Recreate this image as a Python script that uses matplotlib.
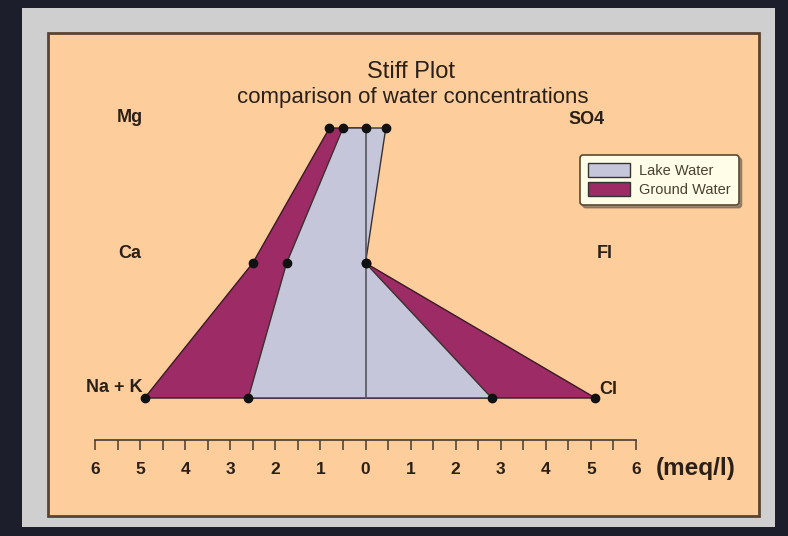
import matplotlib
matplotlib.use("Agg")
import matplotlib.pyplot as plt
from matplotlib.patches import Rectangle, Patch, Polygon

plt.rcParams['font.family'] = ['Liberation Sans', 'DejaVu Sans']

# Data (meq/l); cations on the left (negative side), anions on the right
cations = ["Na + K", "Ca", "Mg"]
anions = ["Cl", "Fl", "SO4"]
lake_cations = [2.6, 1.75, 0.5]
lake_anions = [2.8, 0.0, 0.45]
ground_cations = [4.9, 2.5, 0.8]
ground_anions = [5.1, 0.0, 0.0]
tick_values = [-6, -5, -4, -3, -2, -1, 0, 1, 2, 3, 4, 5, 6]
tick_labels = ["6", "5", "4", "3", "2", "1", "0", "1", "2", "3", "4", "5", "6"]

W, H = 788, 536
fig = plt.figure(figsize=(W / 100, H / 100), dpi=100)
fig.patch.set_facecolor("#1d1e2c")

def fx(px):
    return px / W

def fy(py):
    return 1 - py / H

# gray frame and peach panel
fig.patches.append(Rectangle((fx(22), fy(527)), fx(775) - fx(22), fy(8) - fy(527),
                             transform=fig.transFigure, facecolor="#cfcfd0", edgecolor="none", zorder=-3))
fig.patches.append(Rectangle((fx(48), fy(516)), fx(759) - fx(48), fy(33) - fy(516),
                             transform=fig.transFigure, facecolor="#fdcd9c", edgecolor="#5a4332",
                             linewidth=2, zorder=-2))

# axes: x from -6..6 spans px 95..636, bottom spine at px 440
ylo, yhi = -0.311, 2.2
row_px = 135.0
top_px = 398 - yhi * row_px
ax = fig.add_axes([fx(95), fy(440), fx(636) - fx(95), (440 - top_px) / H])
ax.set_zorder(1)
ax.set_xlim(-6, 6)
ax.set_ylim(ylo, yhi)
ax.patch.set_alpha(0)
for s in ["left", "right", "top"]:
    ax.spines[s].set_visible(False)
ax.spines["bottom"].set_color("#4a3a2c")
ax.spines["bottom"].set_linewidth(1.2)
ax.set_yticks([])
ax.set_xticks(tick_values)
ax.set_xticklabels(tick_labels, fontweight="bold", fontsize=12.5, color="#2a2018")
ax.set_xticks([v + 0.5 for v in tick_values[:-1]], minor=True)
ax.tick_params(axis="x", which="both", direction="out", length=7, width=1.1,
               color="#4a3a2c", pad=9)

rows = list(range(len(cations)))

def poly(cat, an):
    pts = [(-c, r) for c, r in zip(cat[::-1], rows[::-1])]
    pts += [(a, r) for a, r in zip(an, rows)]
    return pts

ground_pts = poly(ground_cations, ground_anions)
lake_pts = poly(lake_cations, lake_anions)

ax.add_patch(Polygon(ground_pts, closed=True, facecolor="#9d2b65", edgecolor="#3a1a28",
                     linewidth=1.0, zorder=2))
ax.add_patch(Polygon(lake_pts, closed=True, facecolor="#c6c6db", edgecolor="#3a3030",
                     linewidth=1.0, zorder=3))
# center line
ax.plot([0, 0], [rows[0], rows[-1]], color="#55555c", linewidth=1.2, zorder=4)

for cat, an in [(ground_cations, ground_anions), (lake_cations, lake_anions)]:
    ax.plot([-c for c in cat], rows, linestyle="none", marker="o", markersize=6,
            color="#111111", zorder=5, clip_on=False)
    ax.plot(an, rows, linestyle="none", marker="o", markersize=6,
            color="#111111", zorder=5, clip_on=False)

# ion labels
lab_kw = dict(fontsize=13, fontweight="bold", color="#2a2018")
fig.text(fx(130), fy(118), cations[2], ha="center", va="center", **lab_kw)
fig.text(fx(130), fy(254), cations[1], ha="center", va="center", **lab_kw)
fig.text(fx(142), fy(387), cations[0], ha="right", va="center", **lab_kw)
fig.text(fx(587), fy(120), anions[2], ha="center", va="center", **lab_kw)
fig.text(fx(605), fy(254), anions[1], ha="center", va="center", **lab_kw)
fig.text(fx(599), fy(389), anions[0], ha="left", va="center", **lab_kw)

# titles
fig.text(fx(411), fy(72), "Stiff Plot", ha="center", va="center", fontsize=17, color="#2a2018")
fig.text(fx(413), fy(97), "comparison of water concentrations", ha="center", va="center",
         fontsize=16, color="#2a2018")

# unit label
fig.text(fx(656), fy(468), "(meq/l)", ha="left", va="center", fontsize=17.5,
         fontweight="bold", color="#2a2018")

handles = [Patch(facecolor="#c6c6db", edgecolor="#333333", label="Lake Water"),
           Patch(facecolor="#9d2b65", edgecolor="#333333", label="Ground Water")]
leg = fig.legend(handles=handles, loc="upper left", bbox_to_anchor=(fx(580), fy(155)),
                 bbox_transform=fig.transFigure, borderaxespad=0, fontsize=10.5,
                 fancybox=True, shadow=True,
                 facecolor="#fffde8", edgecolor="#5a4a32", framealpha=1,
                 handlelength=2.9, handleheight=1.05, borderpad=0.55, labelspacing=0.3,
                 handletextpad=0.6)
leg.get_frame().set_linewidth(1.2)
for t in leg.get_texts():
    t.set_color("#4a4030")

fig.savefig("out.png", dpi=100, facecolor=fig.get_facecolor())
